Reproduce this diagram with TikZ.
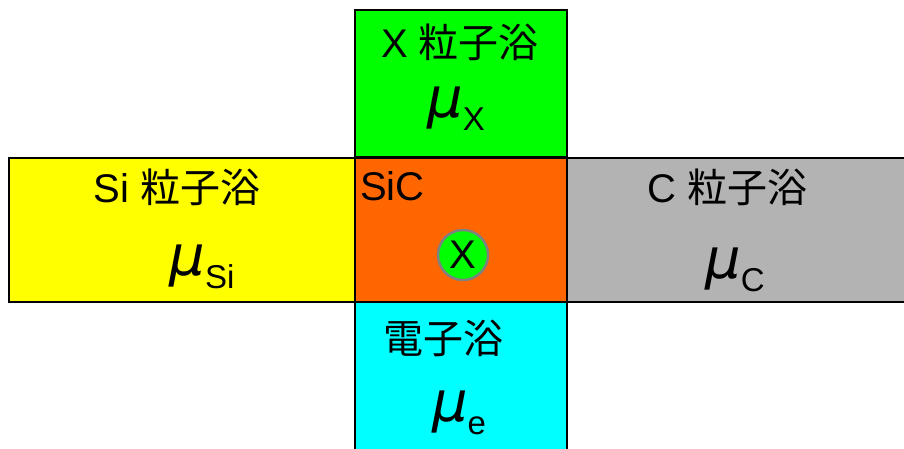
\documentclass[tikz,border=0pt]{standalone}
\usepackage{fontspec}
\setmainfont{Liberation Sans}
\newfontfamily\cjk{Noto Sans CJK JP}
\newfontfamily\mufont{DejaVu Sans}
\definecolor{bgreen}{HTML}{00FF00}
\definecolor{borange}{HTML}{FF6600}
\definecolor{byellow}{HTML}{FFFF00}
\definecolor{bgray}{HTML}{B3B3B3}
\definecolor{bcyan}{HTML}{00FFFF}
\definecolor{ringgray}{HTML}{808080}
\newcommand{\chempot}[1]{{\fontsize{56}{56}\selectfont\mufont\itshape μ}\raisebox{-13pt}{\fontsize{33}{33}\selectfont #1}}
\tikzset{
  bath/.style={draw=black, line width=2pt, rectangle, anchor=north west, inner sep=0pt, outer sep=0pt},
  lbl/.style={inner sep=0pt, font=\fontsize{40}{42}\selectfont},
  mulbl/.style={inner sep=0pt, anchor=base},
}
\begin{document}
\begin{tikzpicture}[x=1pt,y=-1pt]
\useasboundingbox (0,0) rectangle (904,448);
\clip (0,0) rectangle (904,448);
% boxes
\node[bath, fill=bgreen, minimum width=212pt, minimum height=147pt] (xbath) at (355,10) {};
\node[bath, fill=byellow, minimum width=346pt, minimum height=144pt] (sibath) at (9,158) {};
\node[bath, fill=bgray, minimum width=360pt, minimum height=144pt] (cbath) at (567,158) {};
\node[bath, fill=bcyan, minimum width=212pt, minimum height=160pt] (ebath) at (355,302) {};
\node[bath, fill=borange, minimum width=212pt, minimum height=144pt] (sic) at (355,158) {};
% labels
\node[lbl, anchor=base] (xlabel) at (460,57) {X {\cjk 粒子浴}};
\node[mulbl] (mux) at (456,117) {\chempot{X}};
\node[lbl, anchor=base] (silabel) at (177,202) {Si {\cjk 粒子浴}};
\node[mulbl] (musi) at (202,275) {\chempot{Si}};
\node[lbl, anchor=base] (clabel) at (727,202) {C {\cjk 粒子浴}};
\node[mulbl] (muc) at (735,278) {\chempot{C}};
\node[lbl, anchor=center] (elabel) at (443,338) {\cjk 電子浴};
\node[mulbl] (mue) at (459,421) {\chempot{e}};
\node[lbl, anchor=base west] (siclabel) at (360,200) {SiC};
% impurity
\node[circle, fill=bgreen, draw=ringgray, line width=2.5pt, minimum size=50pt, inner sep=0pt] (imp) at (463,255) {};
\node[lbl] (implabel) at (imp.center) {X};
\end{tikzpicture}
\end{document}
